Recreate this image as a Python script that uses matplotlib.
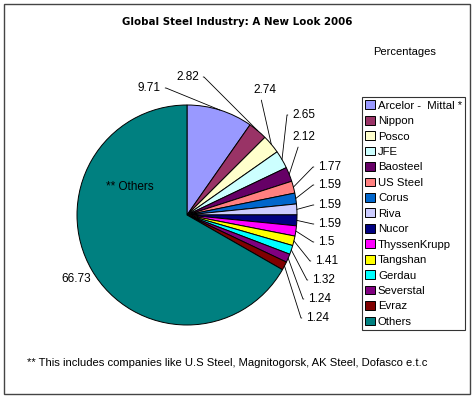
import matplotlib.pyplot as plt
import numpy as np
from matplotlib.patches import Rectangle

W, H = 474, 398

companies = ["Arcelor -  Mittal *", "Nippon", "Posco", "JFE", "Baosteel", "US Steel",
             "Corus", "Riva", "Nucor", "ThyssenKrupp", "Tangshan", "Gerdau",
             "Severstal", "Evraz", "Others"]
shares = [9.71, 2.82, 2.74, 2.65, 2.12, 1.77, 1.59, 1.59, 1.59, 1.5, 1.41, 1.32,
          1.24, 1.24, 66.73]
colors = ["#9999FF", "#993366", "#FFFFCC", "#CCFFFF", "#660066", "#FF8080",
          "#0066CC", "#CCCCFF", "#000080", "#FF00FF", "#FFFF00", "#00FFFF",
          "#800080", "#800000", "#008080"]
value_labels = ["9.71", "2.82", "2.74", "2.65", "2.12", "1.77", "1.59", "1.59",
                "1.59", "1.5", "1.41", "1.32", "1.24", "1.24", "66.73"]

# label positions in pixels (x, y from top), side of the leader line
label_pos = [(161, 88, "r"), (199, 77, "r"), (265, 90, "b"), (292, 115, "l"),
             (304, 137, "b"), (318, 167, "l"), (318, 185, "l"), (318, 205, "l"),
             (318, 224, "l"), (318, 242, "l"), (315, 261, "l"), (312, 280, "l"),
             (308, 299, "l"), (306, 318, "l"), (76, 279, "n")]


def fx(px):
    return px / W


def fy(py):
    return 1 - py / H


fig = plt.figure(figsize=(W / 100, H / 100), dpi=100)
plt.rcParams['font.family'] = ['Liberation Sans', 'DejaVu Sans']

cx, cy, r = 187, 215, 110
ax = fig.add_axes([fx(cx - r), fy(cy + r), 2 * r / W, 2 * r / H])
wedges, _ = ax.pie(shares, colors=colors, startangle=90, counterclock=False,
                   wedgeprops=dict(edgecolor="black", linewidth=0.7))
ax.set_xlim(-1, 1)
ax.set_ylim(-1, 1)
ax.set_aspect("equal")

for w, lab, (px, py, side) in zip(wedges, value_labels, label_pos):
    mid = np.deg2rad((w.theta1 + w.theta2) / 2)
    tip = (np.cos(mid), np.sin(mid))
    if side == "n":
        fig.text(fx(px), fy(py), lab, ha="center", va="center", fontsize=8.5)
        continue
    if side == "r":
        ha, rel, conn = "right", (1, 0.5), "arc,angleA=0,armA=5,rad=0"
    elif side == "l":
        ha, rel, conn = "left", (0, 0.5), "arc,angleA=180,armA=5,rad=0"
    else:
        ha, rel, conn = "center", (0.3, 0), "arc3,rad=0"
    ax.annotate(lab, xy=tip, xycoords="data", xytext=(fx(px), fy(py)),
                textcoords="figure fraction", ha=ha, va="center", fontsize=8.5,
                arrowprops=dict(arrowstyle="-", color="black", lw=0.6,
                                relpos=rel, shrinkA=1, shrinkB=0,
                                connectionstyle=conn))

fig.text(fx(130), fy(187), "** Others", ha="center", va="center", fontsize=8.5)

fig.text(fx(237), fy(22), "Global Steel Industry: A New Look 2006", ha="center",
         va="center", fontsize=7.4, fontweight="bold", family=["DejaVu Sans"])
fig.text(fx(405), fy(52), "Percentages", ha="center", va="center", fontsize=8)

leg = fig.legend(wedges, companies, loc="upper left",
                 bbox_to_anchor=(fx(362), fy(97)), fontsize=8.2, frameon=True,
                 fancybox=False, edgecolor="black", borderpad=0.3,
                 labelspacing=0.45, handlelength=0.8, handleheight=0.8,
                 handletextpad=0.3, borderaxespad=0)
leg.get_frame().set_linewidth(0.8)

fig.text(fx(27), fy(363), "** This includes companies like U.S Steel, Magnitogorsk, AK Steel, Dofasco e.t.c",
         ha="left", va="center", fontsize=8.1)

fig.patches.append(Rectangle((fx(4), fy(394)), fx(466), 390 / H, transform=fig.transFigure,
                             fill=False, edgecolor="#444444", linewidth=1))

fig.savefig("out.png", dpi=100)
